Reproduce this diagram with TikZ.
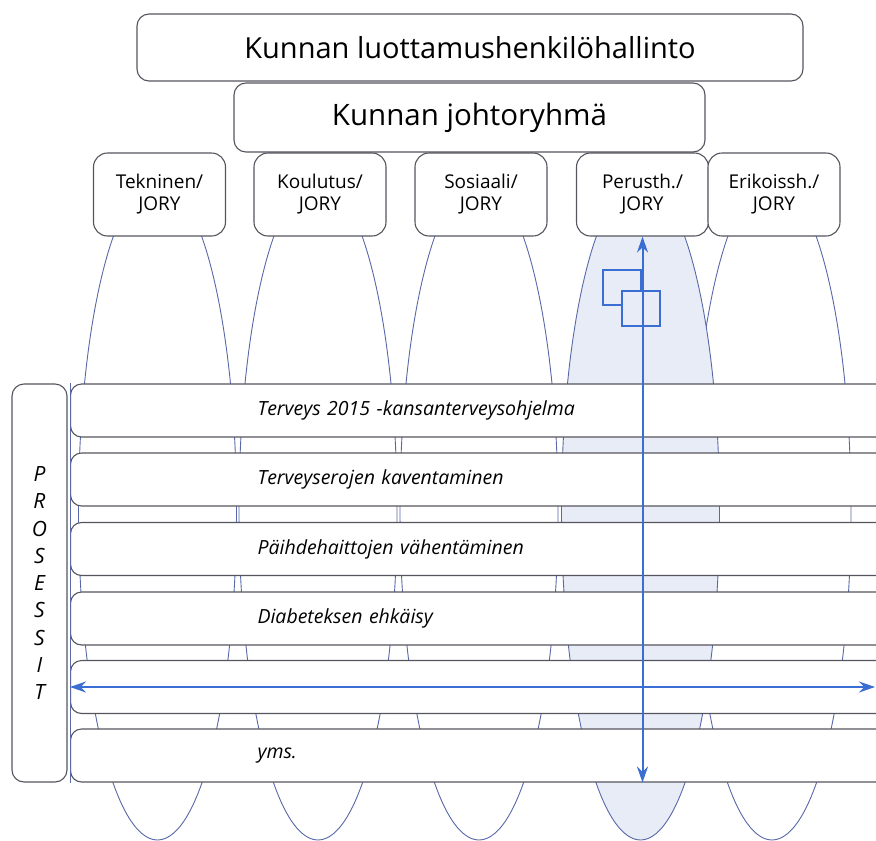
\documentclass[tikz,border=0pt]{standalone}
\usepackage{fontspec}
\setmainfont{Open Sans}
\usepackage{tikz}
\usetikzlibrary{arrows.meta}
\definecolor{boxline}{HTML}{55555F}
\definecolor{lobeline}{HTML}{5868A8}
\definecolor{lobefill}{HTML}{E8ECF6}
\definecolor{arrowblue}{HTML}{3B6ED2}

\begin{document}
\begin{tikzpicture}[x=1pt,y=-1pt,
    orgbox/.style={draw=boxline,line width=1.1pt,fill=white,rounded corners=12pt,inner sep=0pt},
    jorybox/.style={orgbox,rounded corners=14pt,minimum width=132pt,minimum height=83pt,align=center,font=\fontsize{19}{22}\selectfont},
    band/.style={draw=boxline,line width=1.1pt,fill=white,rounded corners=11pt,anchor=west,minimum height=53pt,inner xsep=187pt,inner ysep=0pt,text width=700pt,align=left,font=\fontsize{19.5}{22}\selectfont\itshape},
    lobe/.style={draw=lobeline,line width=0.9pt,fill=white},
    twoway/.style={draw=arrowblue,line width=2pt,{Stealth[length=16pt,width=11pt]}-{Stealth[length=16pt,width=11pt]}}]
            \useasboundingbox (0,0) rectangle (876,841);
            \clip (0,0) rectangle (876,841);

            \draw[lobe] (157.5,510) ellipse [x radius=79, y radius=330];
            \draw[lobe] (318,510) ellipse [x radius=79, y radius=330];
            \draw[lobe] (479,510) ellipse [x radius=79, y radius=330];
            \draw[lobe] (772,510) ellipse [x radius=79, y radius=330];
            \draw[lobe,fill=lobefill] (640.5,510) ellipse [x radius=79, y radius=330];

            \draw[arrowblue,line width=2pt] (603,270) rectangle (641,305);
            \draw[arrowblue,line width=2pt,fill=lobefill] (622,291) rectangle (660,326);

            \node[orgbox,minimum width=666pt,minimum height=67pt,font=\fontsize{29}{34}\selectfont] (hallinto) at (470,47.5) {Kunnan luottamushenkilöhallinto};
            \node[orgbox,minimum width=471pt,minimum height=69pt,font=\fontsize{29.5}{34}\selectfont] (johto) at (469.5,117.5) {Kunnan johtoryhmä};

            \node[jorybox] (tekninen) at (159.5,194.5) {Tekninen/\\JORY};
            \node[jorybox] (koulutus) at (320,194.5) {Koulutus/\\JORY};
            \node[jorybox] (sosiaali) at (481,194.5) {Sosiaali/\\JORY};
            \node[jorybox] (perusth) at (642.5,194.5) {Perusth./\\JORY};
            \node[jorybox] (erikoissh) at (774,194.5) {Erikoissh./\\JORY};

            \node[band] (terveys) at (70,410.5) {Terveys 2015 -kansanterveysohjelma};
            \node[band] (erot) at (70,479.5) {Terveyserojen kaventaminen};
            \node[band] (paihde) at (70,549) {Päihdehaittojen vähentäminen};
            \node[band] (diabetes) at (70,618.5) {Diabeteksen ehkäisy};
            \node[band] (tyhja) at (70,687) {};
            \node[band] (yms) at (70,755.5) {yms.};
            \draw[lobeline,line width=0.9pt] (terveys.north west) -- (yms.south west);

            \node[orgbox,minimum width=55pt,minimum height=398pt,align=center,font=\fontsize{21}{27.25}\selectfont\itshape] (prosessit) at (39.5,583) {P\\R\\O\\S\\E\\S\\S\\I\\T};

            \coordinate (oikea) at (875,687);
            \draw[twoway] (perusth.south) -- (perusth.south |- yms.south);
            \draw[twoway] (tyhja.west) -- (tyhja.west -| oikea);
        \end{tikzpicture}
\end{document}
